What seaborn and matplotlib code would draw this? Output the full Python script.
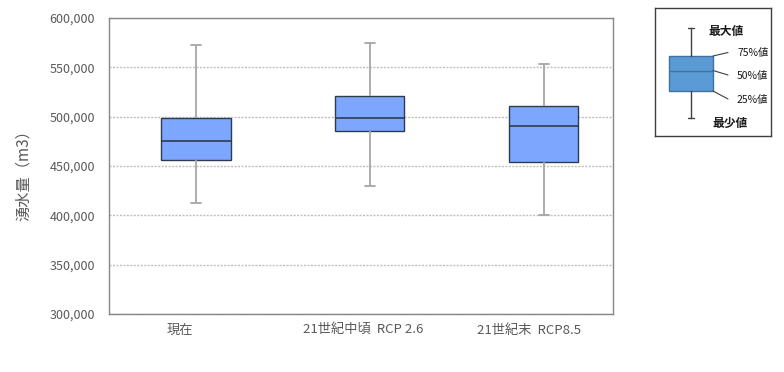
import numpy as np
import pandas as pd
import matplotlib
matplotlib.use("Agg")
import matplotlib.pyplot as plt
import matplotlib.ticker as mticker
import matplotlib.transforms as mtrans
import seaborn as sns

# ---- data (five-number summaries) ----
categories = ["現在", "21世紀中頃  RCP 2.6", "21世紀末  RCP8.5"]
max_vals = [573000, 575000, 553000]
q3_vals = [499000, 521000, 511000]
median_vals = [475000, 499000, 491000]
q1_vals = [456000, 485000, 454000]
min_vals = [413000, 430000, 400000]
y_ticks = [300000, 350000, 400000, 450000, 500000, 550000, 600000]
legend_labels = ["最大値", "75%値", "50%値", "25%値", "最少値"]

rows = []
for c, mn, a, m, b, mx in zip(categories, min_vals, q1_vals, median_vals, q3_vals, max_vals):
    for v in (mn, a, m, b, mx):
        rows.append({"cat": c, "val": v})
df = pd.DataFrame(rows)

sns.set_theme(style="white")
plt.rcParams["font.family"] = ["Noto Sans CJK JP", "DejaVu Sans"]

fig = plt.figure(figsize=(7.84, 3.72), dpi=100)
ax = fig.add_axes([109 / 784, 1 - 314 / 372, (613 - 109) / 784, (314 - 18) / 372])

sns.boxplot(
    data=df, x="cat", y="val", order=categories, ax=ax,
    whis=(0, 100), width=0.397, color="#7DA7FF", saturation=1,
    linecolor="#2F3A4F", linewidth=1.0,
    whiskerprops={"color": "#A6A6A6", "linewidth": 1.3},
    capprops={"color": "#A6A6A6", "linewidth": 1.3},
    medianprops={"color": "#2F3A4F", "linewidth": 1.2},
    boxprops={"edgecolor": "#2F3A4F", "linewidth": 1.0},
    capwidths=0.055,
)

ax.set_xlim(-0.5, 2.397)
ax.set_ylim(300000, 600000)
ax.set_yticks(y_ticks)
ax.yaxis.set_major_formatter(mticker.FuncFormatter(lambda v, p: f"{v:,.0f}"))
ax.grid(axis="y", color="#BFBFBF", linestyle=(0, (1.5, 1)), linewidth=1.0)
ax.set_axisbelow(True)
for s in ax.spines.values():
    s.set_color("#868686")
    s.set_linewidth(1.0)
ax.tick_params(axis="y", length=0, pad=10, labelsize=9, labelcolor="#595959")
ax.tick_params(axis="x", length=0, pad=7, labelsize=9.5, labelcolor="#595959")
ax.set_xlabel("")
ax.set_ylabel("湧水量（m3）", fontsize=11, color="#595959")
ax.yaxis.set_label_coords(-0.153, 0.48)

label_shift_px = [-16, -7, -15]
for lbl, dx in zip(ax.get_xticklabels(), label_shift_px):
    lbl.set_transform(lbl.get_transform() + mtrans.ScaledTranslation(dx / 100, 0, fig.dpi_scale_trans))

# ---- explanatory legend panel ----
lax = fig.add_axes([655 / 784, 1 - 136 / 372, 116 / 784, 128 / 372])
lax.set_xticks([])
lax.set_yticks([])
for s in lax.spines.values():
    s.set_color("#404040")
    s.set_linewidth(1.0)
stats = [{"whislo": 110, "q1": 83, "med": 62.5, "q3": 48, "whishi": 19.5, "fliers": []}]
lax.bxp(stats, positions=[36], widths=[44], patch_artist=True, showfliers=False,
        boxprops={"facecolor": "#5B9BD5", "edgecolor": "#41719C", "linewidth": 1.0},
        medianprops={"color": "#41719C", "linewidth": 1.0},
        whiskerprops={"color": "#404040", "linewidth": 1.0},
        capprops={"color": "#404040", "linewidth": 1.0},
        capwidths=[6], manage_ticks=False)
lax.set_xlim(0, 116)
lax.set_ylim(128, 0)
lax.plot([58, 73], [48, 44.5], color="#404040", lw=0.8)
lax.plot([58, 73], [62.5, 67], color="#404040", lw=0.8)
lax.plot([58, 73], [83, 91], color="#404040", lw=0.8)
fs = 8.5
lax.text(71.5, 24, legend_labels[0], ha="center", va="center", fontsize=fs, fontweight="bold", color="#1a1a1a")
lax.text(82, 44.5, legend_labels[1], ha="left", va="center", fontsize=7.5, color="#1a1a1a")
lax.text(82, 68, legend_labels[2], ha="left", va="center", fontsize=7.5, color="#1a1a1a")
lax.text(82, 92, legend_labels[3], ha="left", va="center", fontsize=7.5, color="#1a1a1a")
lax.text(75, 115.5, legend_labels[4], ha="center", va="center", fontsize=fs, fontweight="bold", color="#1a1a1a")

fig.savefig("out.png", dpi=100)
